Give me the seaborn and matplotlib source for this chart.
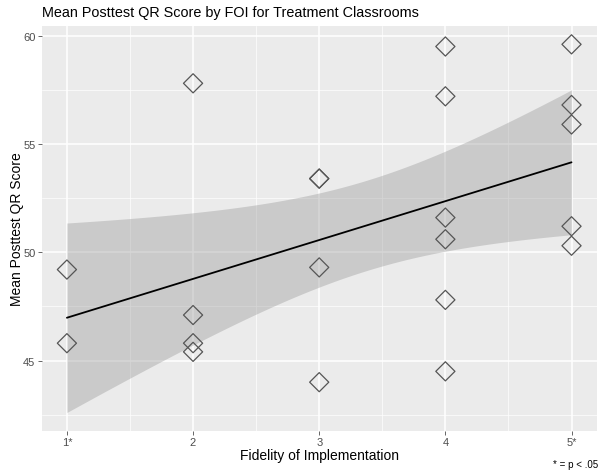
import matplotlib
matplotlib.use("Agg")
import matplotlib.pyplot as plt
import seaborn as sns
import numpy as np
import pandas as pd

# fidelity of implementation level and mean posttest QR score per classroom
foi = [1, 1,
       2, 2, 2, 2,
       3, 3, 3, 3,
       4, 4, 4, 4, 4, 4,
       5, 5, 5, 5, 5]
score = [49.2, 45.8,
         57.8, 47.1, 45.8, 45.4,
         53.4, 53.4, 49.3, 44.0,
         59.5, 57.2, 51.6, 50.6, 47.8, 44.5,
         59.6, 56.8, 55.9, 51.2, 50.3]
tick_vals = [1, 2, 3, 4, 5]
tick_labels = ["1*", "2", "3", "4", "5*"]

df = pd.DataFrame({"foi": foi, "score": score})

sns.set_theme(style="darkgrid", rc={
    "axes.facecolor": "#EBEBEB",
    "grid.color": "white",
    "axes.edgecolor": "#EBEBEB",
})
plt.rcParams["font.family"] = ["Liberation Sans", "DejaVu Sans"]

fig, ax = plt.subplots(figsize=(6.04, 4.77), dpi=100)
fig.subplots_adjust(left=0.069, right=0.988, top=0.944, bottom=0.095)

# t-based 95% confidence band for the linear fit (like geom_smooth(method="lm"))
x = df["foi"].to_numpy(float)
y = df["score"].to_numpy(float)
n = len(x)
b1, b0 = np.polyfit(x, y, 1)
resid = y - (b0 + b1 * x)
s = np.sqrt(np.sum(resid ** 2) / (n - 2))
xg = np.linspace(x.min(), x.max(), 80)
se = s * np.sqrt(1 / n + (xg - x.mean()) ** 2 / np.sum((x - x.mean()) ** 2))
t_crit = 2.093  # t(0.975, df=19)
fit = b0 + b1 * xg
ax.fill_between(xg, fit - t_crit * se, fit + t_crit * se, color="#999999",
                alpha=0.4, linewidth=0, zorder=1)

sns.regplot(data=df, x="foi", y="score", ax=ax, marker="D", color="black",
            ci=None,
            scatter_kws={"s": 95, "facecolors": "none", "edgecolor": "#555555",
                         "linewidths": 0.9, "alpha": 1, "zorder": 3},
            line_kws={"linewidth": 1.3, "color": "black", "zorder": 2})

ax.set_xlim(0.8, 5.2)
ax.set_ylim(41.76, 60.46)
ax.set_xticks(tick_vals)
ax.set_xticklabels(tick_labels)
ax.set_yticks([45, 50, 55, 60])
ax.set_xticks([1.5, 2.5, 3.5, 4.5], minor=True)
ax.set_yticks([42.5, 47.5, 52.5, 57.5], minor=True)
ax.grid(which="major", color="white", linewidth=1.1)
ax.grid(which="minor", color="white", linewidth=0.5)
ax.tick_params(which="major", length=3, width=0.6, color="#4D4D4D",
               labelsize=8, labelcolor="#4D4D4D", pad=1.5, bottom=True, left=True)
ax.tick_params(which="minor", length=0)
for sp in ax.spines.values():
    sp.set_visible(False)

ax.set_xlabel("Fidelity of Implementation", fontsize=10, color="black", labelpad=1)
ax.set_ylabel("Mean Posttest QR Score", fontsize=10, color="black", labelpad=-1)
ax.set_title("Mean Posttest QR Score by FOI for Treatment Classrooms",
             loc="left", fontsize=10.4, color="black", pad=7)
fig.text(0.99, 0.015, "* = p < .05", ha="right", va="bottom", fontsize=7, color="black")

fig.savefig("out.png", dpi=100)
